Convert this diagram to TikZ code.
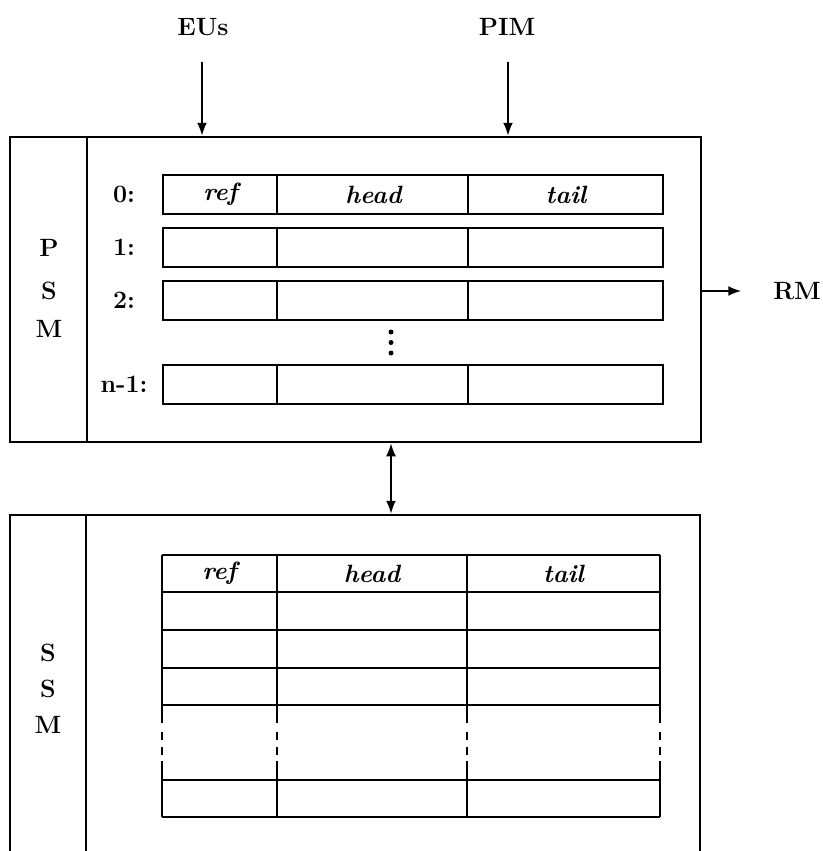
\documentclass[tikz,border=0pt]{standalone}
\usetikzlibrary{arrows.meta}
\begin{document}
\begin{tikzpicture}[x=1pt,y=-1pt, line width=2.5pt,
  lbl/.style={font=\fontsize{25}{30}\selectfont\bfseries, inner sep=0pt},
  hdr/.style={font=\fontsize{25}{30}\selectfont\bfseries\itshape, inner sep=0pt},
  arr/.style={-{Latex[length=13pt,width=10pt]}, line width=2pt},
  darr/.style={{Latex[length=13pt,width=10pt]}-{Latex[length=13pt,width=10pt]}, line width=2pt},
  cellrow/.style={draw, minimum width=500pt, minimum height=39pt, inner sep=0pt},
  membox/.style={draw, inner sep=0pt}]
\useasboundingbox (0,0) rectangle (822,851);
\clip (0,0) rectangle (822,851);

% ---- PSM box ----
\node[membox, minimum width=691pt, minimum height=305pt] (psm) at (355.5,289.5) {};
\draw ([xshift=78pt]psm.north west) -- ([xshift=78pt]psm.south west);
\node[lbl] (p1) at (49,248) {P};
\node[lbl] (p2) at (49,291) {S};
\node[lbl] (p3) at (49,329) {M};

\foreach \n/\t/\l in {0/175/0:,1/228/1:,2/281/2:,3/365/n-1:}{
  \node[cellrow] (r\n) at (413,\t+19.5) {};
  \draw ([xshift=115pt]r\n.north west) -- ([xshift=115pt]r\n.south west);
  \draw ([xshift=306pt]r\n.north west) -- ([xshift=306pt]r\n.south west);
  \node[lbl] (l\n) at (124,\t+19.5) {\l};
}
\node[hdr] (pref) at (220.5,194.5) {ref};
\node[hdr] (phead) at (373.5,194.5) {head};
\node[hdr] (ptail) at (566,194.5) {tail};
\foreach \yy in {332,342.5,353} \fill (391,\yy) circle (2.5pt);

% ---- inputs and output ----
\node[lbl] (eus) at (203,27) {EUs};
\node[lbl] (pim) at (507,27) {PIM};
\coordinate (eusS) at (202,62);
\coordinate (pimS) at (508,62);
\draw[arr] (eusS) -- (eusS |- psm.north);
\draw[arr] (pimS) -- (pimS |- psm.north);
\node[lbl, anchor=west] (rm) at (772,291) {RM};
\draw[arr] (psm.east |- rm.west) -- ++(39,0);

% ---- SSM box ----
\node[membox, minimum width=690pt, minimum height=400pt] (ssm) at (355,715) {};
\draw ([xshift=77pt]ssm.north west) -- ([xshift=77pt]ssm.south west);
\node[lbl] (s1) at (48,653) {S};
\node[lbl] (s2) at (48,689) {S};
\node[lbl] (s3) at (48,725) {M};

\coordinate (dx) at (391,0);
\draw[darr] (dx |- psm.south) -- (dx |- ssm.north);

% ---- SSM table ----
\foreach \yy in {555,592,630,668,705,780,817} \draw (162,\yy) -- (660,\yy);
\foreach \xx in {162,277,467,660}{
  \draw (\xx,555) -- (\xx,723);
  \draw (\xx,732) -- (\xx,740);
  \draw (\xx,747) -- (\xx,755);
  \draw (\xx,761) -- (\xx,817);
}
\node[hdr] (sref) at (219.5,573.5) {ref};
\node[hdr] (shead) at (372,573.5) {head};
\node[hdr] (stail) at (563.5,573.5) {tail};
\end{tikzpicture}
\end{document}
